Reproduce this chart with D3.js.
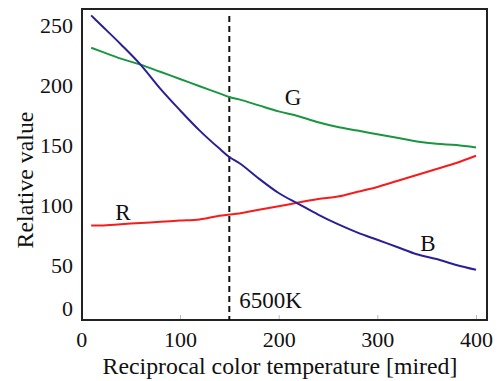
<!DOCTYPE html>
<html>
<head>
<meta charset="utf-8">
<script src="https://cdn.jsdelivr.net/npm/d3@7"></script>
<style>
  body { margin: 0; background: #fff; }
</style>
</head>
<body>
<div id="vis"></div>
<script>
// data (mired, relative value)
const mired = [10, 20, 40, 60, 80, 100, 120, 140, 150, 160, 180, 200, 220, 240, 260, 280, 300, 320, 340, 360, 380, 400]
const rVals = [83, 83, 84, 85, 86, 87, 88, 91, 92, 93, 96, 99, 102, 105, 107, 111, 115, 120, 125, 130, 135, 141]
const gVals = [231, 228, 222, 217, 211, 205, 199, 193, 190, 188, 183, 178, 174, 169, 165, 162, 159, 156, 153, 151, 150, 148]
const bVals = [258, 250, 234, 217, 197, 179, 162, 147, 140, 135, 122, 110, 101, 92, 84, 77, 71, 65, 59, 55, 50, 46]
const xTicks = [0, 100, 200, 300, 400]
const yTicks = [0, 50, 100, 150, 200, 250]
const refMired = 150

const width = 497, height = 381
const frame = { left: 82, right: 487, top: 9, bottom: 320 }
const serif = "'Liberation Serif'"

const svg = d3.select('#vis').append('svg')
    .attr('width', width)
    .attr('height', height)

const xScale = d3.scaleLinear().domain([0, 400]).range([81.3, 476])
const yScale = d3.scaleLinear().domain([50, 250]).range([265, 25])

function styleText(sel, size) {
    sel.style('font-family', serif).style('font-size', size + 'px').attr('fill', '#111')
}

// x axis: small grey ticks pointing inward, labels under the frame
const xAxis = svg.append('g')
    .attr('transform', `translate(0,${frame.bottom})`)
    .call(d3.axisBottom(xScale).tickValues(xTicks).tickSize(-5).tickPadding(11).tickFormat(d3.format('d')))
xAxis.select('.domain').remove()
xAxis.selectAll('line').attr('stroke', '#bbb').filter(d => d === 0).remove()
styleText(xAxis.selectAll('text'), 22)

// y axis: labels only
const yAxis = svg.append('g')
    .attr('transform', `translate(${frame.left},0)`)
    .call(d3.axisLeft(yScale).tickValues(yTicks).tickSize(0).tickPadding(9).tickFormat(d3.format('d')))
yAxis.select('.domain').remove()
styleText(yAxis.selectAll('text'), 22)
// the "0" label sits a bit higher, inside the frame height
yAxis.selectAll('.tick').filter(d => d === 0)
    .attr('transform', `translate(0,${yScale(0) - 16})`)

// frame
svg.append('rect')
    .attr('x', frame.left).attr('y', frame.top)
    .attr('width', frame.right - frame.left)
    .attr('height', frame.bottom - frame.top)
    .attr('fill', 'none').attr('stroke', '#222').attr('stroke-width', 2)

// 6500K reference line
svg.append('line')
    .attr('x1', xScale(refMired)).attr('x2', xScale(refMired))
    .attr('y1', 16).attr('y2', frame.bottom)
    .attr('stroke', '#111').attr('stroke-width', 2)
    .attr('stroke-dasharray', '6,4')

styleText(svg.append('text')
    .attr('x', xScale(refMired) + 10).attr('y', 308)
    .text('6500K'), 23)

const series = [
    { name: 'G', vals: gVals, color: '#1a9640', lx: 293, ly: 105 },
    { name: 'R', vals: rVals, color: '#f61c1c', lx: 123, ly: 220 },
    { name: 'B', vals: bVals, color: '#2a2096', lx: 428, ly: 251 }
]

const line = d3.line()
    .x((d, i) => xScale(mired[i]))
    .y(d => yScale(d))
    .curve(d3.curveMonotoneX)

series.forEach(s => {
    svg.append('path')
        .datum(s.vals)
        .attr('d', line)
        .attr('fill', 'none')
        .attr('stroke', s.color)
        .attr('stroke-width', 2)
    styleText(svg.append('text')
        .attr('x', s.lx).attr('y', s.ly)
        .attr('text-anchor', 'middle')
        .text(s.name), 23)
})

// axis titles
styleText(svg.append('text')
    .attr('x', 280).attr('y', 374)
    .attr('text-anchor', 'middle')
    .text('Reciprocal color temperature [mired]'), 23.8)

styleText(svg.append('text')
    .attr('transform', 'rotate(-90)')
    .attr('x', -180).attr('y', 33)
    .attr('text-anchor', 'middle')
    .text('Relative value'), 23.8)
</script>
</body>
</html>
